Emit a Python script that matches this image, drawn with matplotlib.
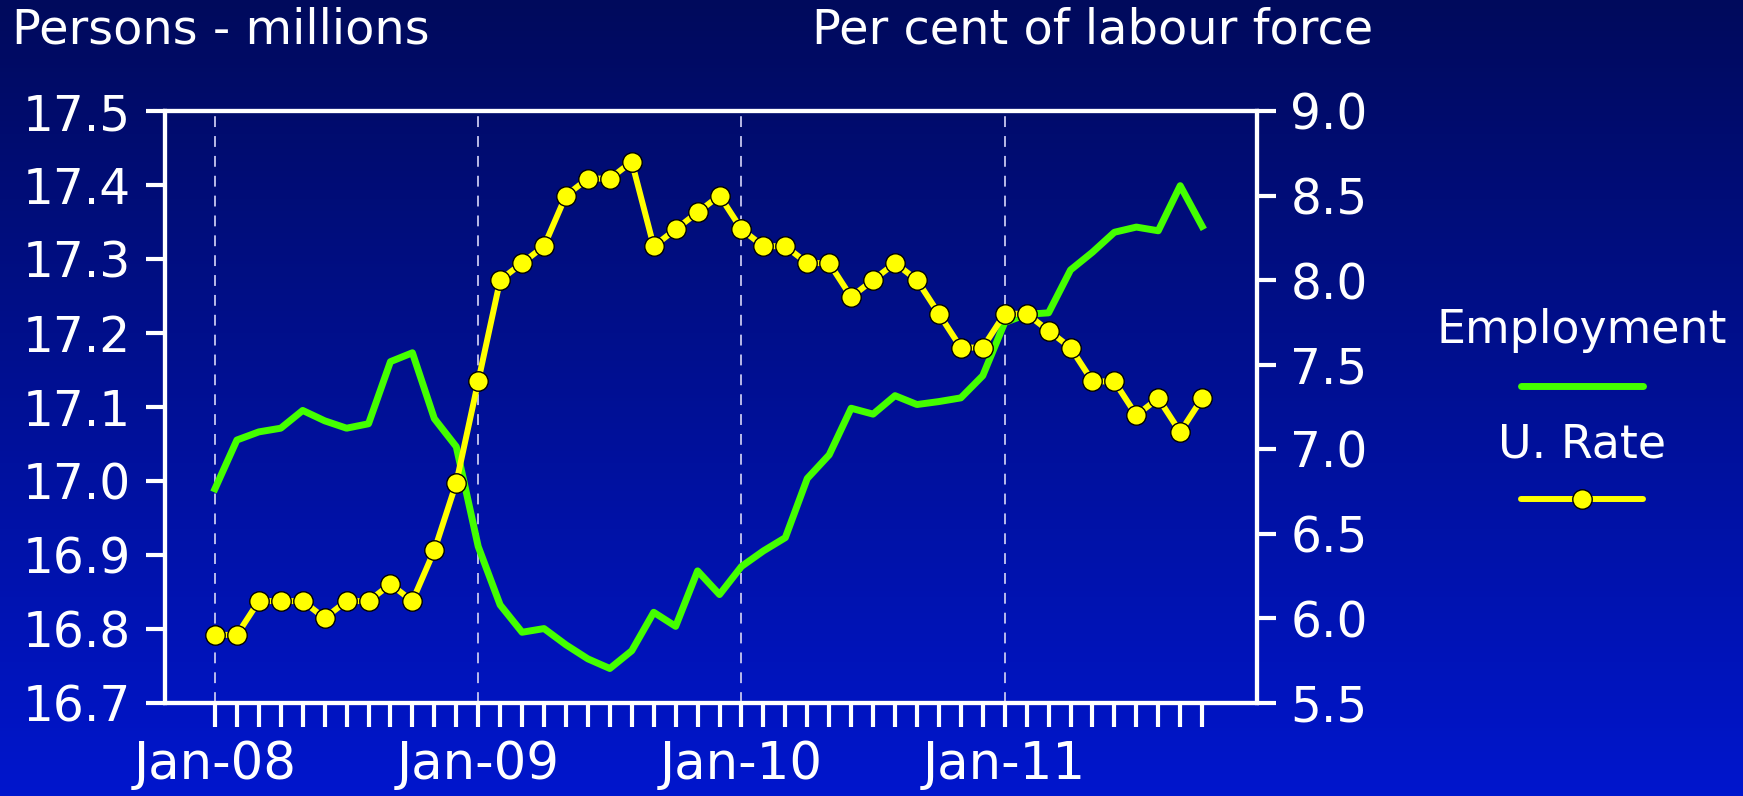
import matplotlib
matplotlib.use("Agg")
import matplotlib.pyplot as plt
import numpy as np
from matplotlib.lines import Line2D

plt.rcParams['font.family'] = ['DejaVu Sans']

# ---- data (monthly, Jan-08 .. Oct-11) ----
months = ['Jan-08', 'Feb-08', 'Mar-08', 'Apr-08', 'May-08', 'Jun-08', 'Jul-08', 'Aug-08',
          'Sep-08', 'Oct-08', 'Nov-08', 'Dec-08',
          'Jan-09', 'Feb-09', 'Mar-09', 'Apr-09', 'May-09', 'Jun-09', 'Jul-09', 'Aug-09',
          'Sep-09', 'Oct-09', 'Nov-09', 'Dec-09',
          'Jan-10', 'Feb-10', 'Mar-10', 'Apr-10', 'May-10', 'Jun-10', 'Jul-10', 'Aug-10',
          'Sep-10', 'Oct-10', 'Nov-10', 'Dec-10',
          'Jan-11', 'Feb-11', 'Mar-11', 'Apr-11', 'May-11', 'Jun-11', 'Jul-11', 'Aug-11',
          'Sep-11', 'Oct-11']

employment = [16.989, 17.055, 17.066, 17.071, 17.095, 17.081, 17.071, 17.077,
              17.161, 17.173, 17.084, 17.046,
              16.911, 16.832, 16.795, 16.800, 16.778, 16.759, 16.746, 16.770,
              16.822, 16.803, 16.878, 16.846,
              16.884, 16.905, 16.923, 17.003, 17.035, 17.098, 17.090, 17.115,
              17.103, 17.107, 17.112, 17.142,
              17.214, 17.225, 17.227, 17.285, 17.309, 17.336, 17.343, 17.338,
              17.399, 17.344]

u_rate = [5.9, 5.9, 6.1, 6.1, 6.1, 6.0, 6.1, 6.1, 6.2, 6.1, 6.4, 6.8,
          7.4, 8.0, 8.1, 8.2, 8.5, 8.6, 8.6, 8.7, 8.2, 8.3, 8.4, 8.5,
          8.3, 8.2, 8.2, 8.1, 8.1, 7.9, 8.0, 8.1, 8.0, 7.8, 7.6, 7.6,
          7.8, 7.8, 7.7, 7.6, 7.4, 7.4, 7.2, 7.3, 7.1, 7.3]

left_ticks = [16.7, 16.8, 16.9, 17.0, 17.1, 17.2, 17.3, 17.4, 17.5]
right_ticks = [5.5, 6.0, 6.5, 7.0, 7.5, 8.0, 8.5, 9.0]
year_labels = ['Jan-08', 'Jan-09', 'Jan-10', 'Jan-11']

series_names = ['Employment', 'U. Rate']
GREEN = '#44FF00'
YELLOW = '#FFFF00'
WHITE = 'white'

W, H = 1743, 796
fig = plt.figure(figsize=(W / 100, H / 100), dpi=100)

# background gradient
bg = fig.add_axes([0, 0, 1, 1], zorder=-10)
top_c = np.array([0, 10, 92]) / 255.0
bot_c = np.array([0, 22, 205]) / 255.0
t = np.linspace(0, 1, 256)[:, None]
grad = top_c[None, :] * (1 - t) + bot_c[None, :] * t
bg.imshow(grad[:, None, :], aspect='auto', extent=[0, 1, 0, 1])
bg.set_axis_off()

left, right, bottom, top = 164.5 / W, 1257 / W, 1 - 702.5 / H, 1 - 111 / H
ax = fig.add_axes([left, bottom, right - left, top - bottom])
ax.patch.set_alpha(0)
ax2 = ax.twinx()
ax2.patch.set_alpha(0)

x = np.arange(len(months))

# dashed year lines
for lab in year_labels:
    xi = months.index(lab)
    ax.axvline(xi, color='#C8C8F0', lw=1.3, ls=(0, (6, 5)), zorder=1)

ax.plot(x, employment, color=GREEN, lw=5.0, zorder=3)
ax2.plot(x, u_rate, color=YELLOW, lw=4.3, marker='o', ms=14, mfc=YELLOW,
         mec='black', mew=1.0, zorder=3)

ax.set_xlim(-2.3, 47.5)
ax.set_ylim(16.7, 17.5)
ax2.set_ylim(5.5, 9.0)

ax.set_yticks(left_ticks)
ax.set_yticklabels([f'{v:.1f}' for v in left_ticks])
ax2.set_yticks(right_ticks)
ax2.set_yticklabels([f'{v:.1f}' for v in right_ticks])

ax.set_xticks(x)
ax.set_xticklabels([m if m in year_labels else '' for m in months])

for a in (ax, ax2):
    for s in a.spines.values():
        s.set_color(WHITE)
        s.set_linewidth(3)

ax.tick_params(axis='y', colors=WHITE, labelsize=35, length=14, width=3, pad=10,
               direction='out')
ax2.tick_params(axis='y', colors=WHITE, labelsize=35, length=14, width=3, pad=10,
                direction='out')
ax.tick_params(axis='x', colors=WHITE, labelsize=37, length=17, width=3, pad=10,
               direction='out')

ax2.set_zorder(ax.get_zorder() + 1)

# axis titles
fig.text(12 / W, 1 - 30 / H, 'Persons - millions', color=WHITE, fontsize=34.5,
         ha='left', va='center')
fig.text(1373 / W, 1 - 30 / H, 'Per cent of labour force', color=WHITE, fontsize=34.5,
         ha='right', va='center')

# legend (manual)
cx = 1582 / W
fig.text(cx, 1 - 331 / H, series_names[0], color=WHITE, fontsize=33,
         ha='center', va='center')
fig.add_artist(Line2D([1521 / W, 1643 / W], [1 - 386 / H, 1 - 386 / H],
                      color=GREEN, lw=5.0, solid_capstyle='round',
                      transform=fig.transFigure))
fig.text(cx, 1 - 445 / H, series_names[1], color=WHITE, fontsize=33,
         ha='center', va='center')
fig.add_artist(Line2D([1521 / W, 1643 / W], [1 - 499 / H, 1 - 499 / H],
                      color=YELLOW, lw=4.3, solid_capstyle='round',
                      transform=fig.transFigure))
fig.add_artist(Line2D([cx], [1 - 499 / H], marker='o', ms=14, mfc=YELLOW,
                      mec='black', mew=1.0, transform=fig.transFigure))

fig.savefig('out.png', dpi=100)
